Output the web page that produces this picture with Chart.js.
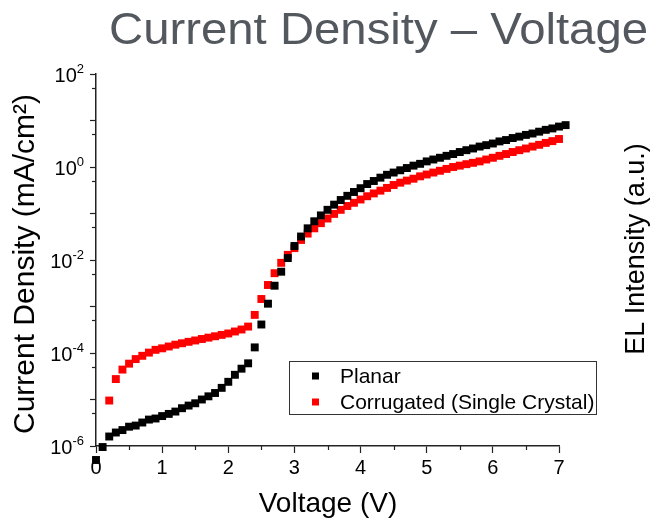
<!DOCTYPE html>
<html>
<head>
<meta charset="utf-8">
<script src="https://cdn.jsdelivr.net/npm/chart.js@4/dist/chart.umd.min.js"></script>
<style>
html,body{margin:0;padding:0;background:#fff;}
#wrap{width:654px;height:522px;position:relative;}
</style>
</head>
<body>
<div id="wrap"><canvas id="c" width="654" height="522"></canvas></div>
<script>
// ---- data ----
const chartTitle = "Current Density \u2013 Voltage";
const xTitle = "Voltage (V)";
const yTitle = "Current Density (mA/cm\u00B2)";
const y2Title = "EL Intensity (a.u.)";
const seriesNames = ["Planar", "Corrugated (Single Crystal)"];

const planarV = [0.0,0.1,0.2,0.3,0.4,0.5,0.6,0.7,0.8,0.9,1.0,1.1,1.2,1.3,1.4,1.5,1.6,1.7,1.8,1.9,
  2.0,2.1,2.2,2.3,2.4,2.5,2.6,2.7,2.8,2.9,3.0,3.1,3.2,3.3,3.4,3.5,3.6,3.7,3.8,3.9,
  4.0,4.1,4.2,4.3,4.4,4.5,4.6,4.7,4.8,4.9,5.0,5.1,5.2,5.3,5.4,5.5,5.6,5.7,5.8,5.9,
  6.0,6.1,6.2,6.3,6.4,6.5,6.6,6.7,6.8,6.9,7.0,7.1];
const planarJ = [5e-7,9.5e-7,1.6e-6,1.95e-6,2.2e-6,2.6e-6,2.75e-6,3.2e-6,3.7e-6,3.9e-6,
  4.4e-6,4.9e-6,5.5e-6,6.5e-6,7.4e-6,8.3e-6,1.0e-5,1.17e-5,1.38e-5,1.78e-5,
  2.4e-5,3.4e-5,4.6e-5,6.0e-5,1.32e-4,4.1e-4,1.15e-3,2.8e-3,5.6e-3,1.1e-2,
  2.0e-2,3.2e-2,4.8e-2,6.8e-2,0.091,0.12,0.155,0.195,0.24,0.29,
  0.35,0.43,0.50,0.59,0.68,0.76,0.85,0.95,1.07,1.17,
  1.32,1.45,1.58,1.74,1.9,2.1,2.3,2.5,2.75,2.95,
  3.2,3.55,3.8,4.2,4.5,4.9,5.25,5.75,6.3,6.75,7.4,7.95];

const corrV = [0.2,0.3,0.4,0.5,0.6,0.7,0.8,0.9,1.0,1.1,1.2,1.3,1.4,1.5,1.6,1.7,1.8,1.9,
  2.0,2.1,2.2,2.3,2.4,2.5,2.6,2.7,2.8,2.9,3.0,3.1,3.2,3.3,3.4,3.5,3.6,3.7,3.8,3.9,
  4.0,4.1,4.2,4.3,4.4,4.5,4.6,4.7,4.8,4.9,5.0,5.1,5.2,5.3,5.4,5.5,5.6,5.7,5.8,5.9,
  6.0,6.1,6.2,6.3,6.4,6.5,6.6,6.7,6.8,6.9,7.0];
const corrJ = [9.5e-6,2.75e-5,4.4e-5,5.9e-5,7.4e-5,8.7e-5,1.02e-4,1.17e-4,1.26e-4,1.38e-4,
  1.51e-4,1.62e-4,1.74e-4,1.86e-4,2.0e-4,2.14e-4,2.29e-4,2.45e-4,
  2.63e-4,2.9e-4,3.2e-4,3.7e-4,6.6e-4,1.45e-3,2.9e-3,5.2e-3,8.7e-3,1.29e-2,
  1.8e-2,2.7e-2,3.7e-2,4.8e-2,6.2e-2,7.8e-2,9.8e-2,0.12,0.145,0.17,
  0.20,0.235,0.27,0.31,0.355,0.41,0.46,0.51,0.56,0.63,
  0.69,0.76,0.83,0.91,1.0,1.07,1.15,1.23,1.32,1.45,
  1.58,1.74,1.9,2.1,2.3,2.5,2.75,3.0,3.3,3.6,4.0];

const xTicks = [0,1,2,3,4,5,6,7];
const xMinorTicks = [0.5,1.5,2.5,3.5,4.5,5.5,6.5];
const yMajorTicks = [1e-6,1e-5,1e-4,1e-3,1e-2,1e-1,1,10,100];
const yMinorTicks = [5e-6,5e-5,5e-4,5e-3,5e-2,0.5,5,50];
const yLabelExponents = [-6,-4,-2,0,2];

const colors = ["#000000", "#ff0000"];

const toPts = (xs, ys) => xs.map((x, i) => ({x: x, y: ys[i]}));

const FONT = "'Liberation Sans', Arial, sans-serif";

// let markers that sit just outside the plot frame still be drawn (as in the original)
const origPointDraw = Chart.PointElement.prototype.draw;
Chart.PointElement.prototype.draw = function(ctx, area) {
  return origPointDraw.call(this, ctx, undefined);
};

const decor = {
  id: 'decor',
  afterDraw(chart) {
    const ctx = chart.ctx;
    const xs = chart.scales.x, ys = chart.scales.y;
    const ca = chart.chartArea;
    ctx.save();
    // minor ticks
    ctx.strokeStyle = '#222';
    ctx.lineWidth = 1.2;
    yMinorTicks.forEach(v => {
      const py = Math.round(ys.getPixelForValue(v)) + 0.5;
      ctx.beginPath(); ctx.moveTo(ca.left - 4, py); ctx.lineTo(ca.left, py); ctx.stroke();
    });
    xMinorTicks.forEach(v => {
      const px = Math.round(xs.getPixelForValue(v)) + 0.5;
      ctx.beginPath(); ctx.moveTo(px, ca.bottom); ctx.lineTo(px, ca.bottom + 4); ctx.stroke();
    });
    // y tick labels 10^n
    ctx.fillStyle = '#000';
    yLabelExponents.forEach(e => {
      const py = ys.getPixelForValue(Math.pow(10, e));
      const exp = String(e);
      ctx.font = "13px " + FONT;
      const ew = ctx.measureText(exp).width;
      const right = ca.left - 12;
      ctx.textAlign = 'left'; ctx.textBaseline = 'alphabetic';
      ctx.fillText(exp, right - ew, py - 1);
      ctx.font = "20px " + FONT;
      ctx.textAlign = 'right';
      ctx.fillText("10", right - ew, py + 8);
    });
    // title
    ctx.fillStyle = '#53585e';
    ctx.font = "44px " + FONT;
    ctx.textAlign = 'right'; ctx.textBaseline = 'alphabetic';
    ctx.save();
    ctx.translate(648, 44);
    ctx.scale(1.075, 1);
    ctx.fillText(chartTitle, 0, 0);
    ctx.restore();
    // axis titles
    ctx.fillStyle = '#000';
    ctx.textAlign = 'center'; ctx.textBaseline = 'middle';
    ctx.font = "28px " + FONT;
    ctx.fillText(xTitle, 328, 504);
    ctx.save();
    ctx.font = "30px " + FONT;
    ctx.translate(26, 264); ctx.rotate(-Math.PI / 2);
    ctx.fillText(yTitle, 0, 0);
    ctx.restore();
    ctx.save();
    ctx.font = "27px " + FONT;
    ctx.translate(637, 249); ctx.rotate(-Math.PI / 2);
    ctx.fillText(y2Title, 0, 0);
    ctx.restore();
    // legend
    ctx.strokeStyle = '#333'; ctx.lineWidth = 1;
    ctx.strokeRect(289.5, 361.5, 307, 53);
    ctx.font = "21px " + FONT;
    ctx.textAlign = 'left'; ctx.textBaseline = 'middle';
    chart.data.datasets.forEach((ds, i) => {
      const cy = 376 + i * 26;
      ctx.fillStyle = ds.backgroundColor;
      ctx.fillRect(312, cy - 3.5, 7, 7);
      ctx.fillStyle = '#000';
      ctx.fillText(ds.label, 340, cy + 1);
    });
    ctx.restore();
  }
};

new Chart(document.getElementById('c'), {
  type: 'scatter',
  data: {
    datasets: [
      {label: seriesNames[0], data: toPts(planarV, planarJ), backgroundColor: colors[0], borderColor: colors[0],
       pointStyle: 'rect', pointRadius: 5.6, borderWidth: 0, showLine: false, clip: false},
      {label: seriesNames[1], data: toPts(corrV, corrJ), backgroundColor: colors[1], borderColor: colors[1],
       pointStyle: 'rect', pointRadius: 5.6, borderWidth: 0, showLine: false, clip: false}
    ]
  },
  options: {
    responsive: false,
    animation: false,
    devicePixelRatio: 1,
    layout: {padding: {top: 74, right: 95, left: 0, bottom: 0}},
    plugins: {legend: {display: false}, tooltip: {enabled: false}, title: {display: false}},
    scales: {
      x: {
        type: 'linear',
        afterDataLimits: s => { s.min = 0; s.max = 7; },
        afterBuildTicks: s => { s.ticks = xTicks.map(v => ({value: v})); },
        afterFit: s => { s.height = 76; },
        grid: {drawOnChartArea: false, drawTicks: true, tickLength: 7, tickColor: '#222', tickWidth: 1.2},
        border: {display: true, color: '#222', width: 1.5},
        ticks: {color: '#000', font: {family: FONT, size: 20}, padding: 3, maxRotation: 0}
      },
      y: {
        type: 'logarithmic', min: 1e-6, max: 100,
        afterBuildTicks: s => { s.ticks = yMajorTicks.map(v => ({value: v})); },
        afterFit: s => { s.width = 96; },
        grid: {drawOnChartArea: false, drawTicks: true, tickLength: 6, tickColor: '#222', tickWidth: 1.2},
        border: {display: true, color: '#222', width: 1.5},
        ticks: {display: false}
      }
    }
  },
  plugins: [decor]
});
</script>
</body>
</html>
